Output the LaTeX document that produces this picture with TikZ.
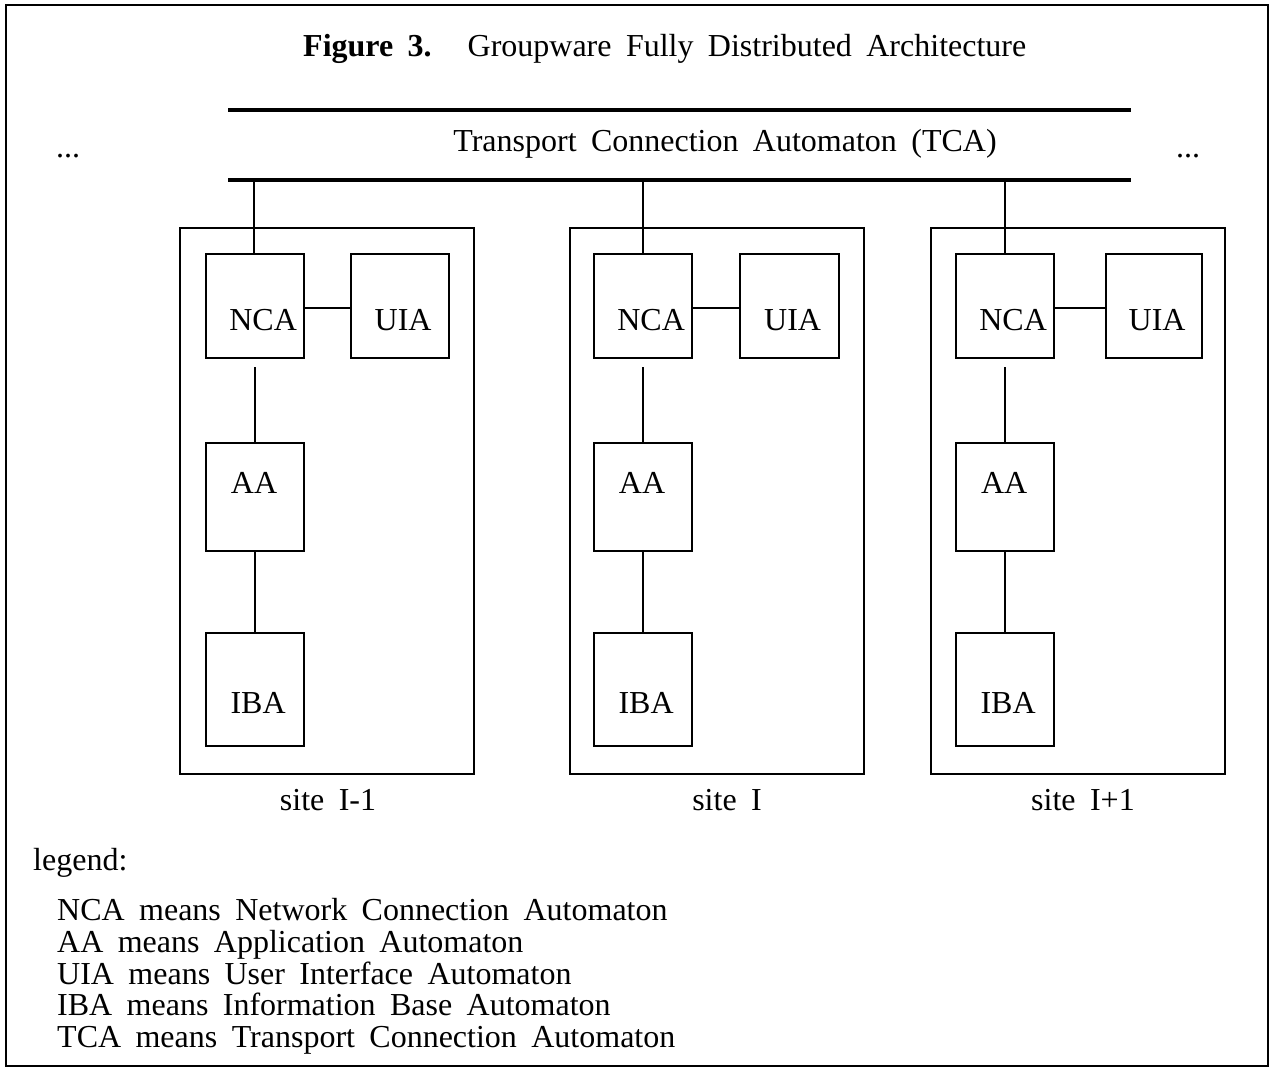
\documentclass[tikz,border=0pt]{standalone}
\usepackage{fontspec}
\setmainfont[WordSpace=1.8]{Liberation Serif}
\usetikzlibrary{calc}
\begin{document}
\begin{tikzpicture}[x=1pt,y=-1pt,
  every node/.style={font=\fontsize{32}{38}\selectfont},
  sitebox/.style={draw,line width=2pt,minimum width=294pt,minimum height=546pt,inner sep=0pt,anchor=north west},
  autobox/.style={draw,line width=2.2pt,minimum width=98pt,inner sep=0pt,anchor=north west},
  txt/.style={anchor=base,inner sep=0pt},
  conn/.style={line width=1.8pt},
  bar/.style={line width=3.5pt}]
\useasboundingbox (0,0) rectangle (1271,1069);
\draw[line width=1.8pt] (6,5) rectangle (1268,1066);
% title
\node[txt,anchor=base west] (title) at (303,56) {\textbf{Figure 3.}\hspace{36pt}Groupware Fully Distributed Architecture};
% TCA bars
\coordinate (t1) at (228,110); \coordinate (t2) at (1131,110);
\coordinate (b1) at (228,180); \coordinate (b2) at (1131,180);
\draw[bar] (t1) -- (t2);
\draw[bar] (b1) -- (b2);
\node[txt] (tca) at (725,151) {Transport Connection Automaton (TCA)};
\node[txt] (dl) at (68,157) {...};
\node[txt] (dr) at (1188,157) {...};
% sites: box left, nca left, uia left, uia width, bus x, label x, label
\foreach \i/\B/\N/\U/\Uw/\X/\L/\S in {1/179/205/350/98/254/328/{site I-1},2/569/593/739/99/643/727/{site I},3/930/955/1105/96/1005/1083/{site I+1}}{
  \node[sitebox] (site\i) at (\B,227) {};
  \node[autobox,minimum height=104pt] (nca\i) at (\N,253) {};
  \node[autobox,minimum width=\Uw pt,minimum height=104pt] (uia\i) at (\U,253) {};
  \node[autobox,minimum height=108pt] (aa\i) at (\N,442) {};
  \node[autobox,minimum height=113pt] (iba\i) at (\N,632) {};
  \node[txt] (ncat\i) at ($(nca\i.north)+(8,77)$) {NCA};
  \node[txt] (uiat\i) at ($(uia\i.north)+(3,77)$) {UIA};
  \node[txt] (aat\i) at ($(aa\i.north)+(-1,51)$) {AA};
  \node[txt] (ibat\i) at ($(iba\i.north)+(3,81)$) {IBA};
  \node[txt] (sl\i) at (\L,810) {\S};
  \coordinate (bus\i) at (\X,180);
  \draw[conn] (bus\i) -- (bus\i |- nca\i.north);
  \draw[conn] ($(nca\i.east)+(0,2)$) -- ($(uia\i.west)+(0,2)$);
  \draw[conn] ([yshift=-8pt]nca\i.south) -- (aa\i.north);
  \draw[conn] (aa\i.south) -- (iba\i.north);
}
% legend
\node[txt,anchor=base west] (leg) at (33,870) {legend:};
\node[txt,anchor=base west] (l1) at (57,920) {NCA means Network Connection Automaton};
\node[txt,anchor=base west] (l2) at (57,952) {AA means Application Automaton};
\node[txt,anchor=base west] (l3) at (57,984) {UIA means User Interface Automaton};
\node[txt,anchor=base west] (l4) at (57,1015) {IBA means Information Base Automaton};
\node[txt,anchor=base west] (l5) at (57,1047) {TCA means Transport Connection Automaton};
\end{tikzpicture}
\end{document}
